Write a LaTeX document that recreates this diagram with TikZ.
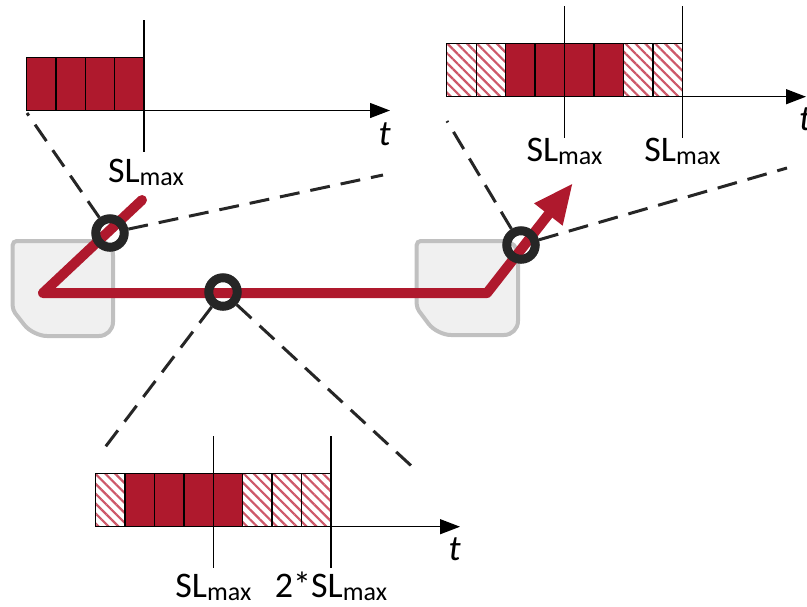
\documentclass[tikz,border=0pt]{standalone}
\usepackage{fontspec}
\setmainfont{Carlito}
\usepackage{xcolor}
\usepackage{tikz}
\usetikzlibrary{positioning, arrows.meta, patterns.meta}

\definecolor{slred}{RGB}{175,25,45}
\definecolor{slhatch}{RGB}{205,88,105}
\definecolor{ringgray}{RGB}{38,38,38}
\definecolor{boxfill}{RGB}{240,240,240}
\definecolor{boxline}{RGB}{192,192,192}

\newcommand{\slmax}{SL\raisebox{-3pt}{\fontsize{26}{26}\selectfont max}}

\tikzset{
  fullcell/.style={draw=black, line width=1.3pt, fill=slred},
  hatchcell/.style={draw=black, line width=1.3pt, pattern={Lines[angle=-45,distance=7pt,line width=2.2pt]}, pattern color=slhatch},
  taxis/.style={-{Triangle[length=20pt,width=15pt]}, line width=1.3pt},
  tickline/.style={line width=1.3pt},
  station/.style={fill=boxfill, draw=boxline, line width=4pt, rounded corners=14pt},
  route/.style={draw=slred, line width=10pt, line cap=round, line join=round, -{Triangle[length=40pt,width=33pt]}},
  probe/.style={circle, draw=ringgray, line width=9pt, minimum size=28.5pt, inner sep=0pt},
  zoomline/.style={draw=ringgray, line width=3pt, dash pattern=on 20pt off 11pt},
  lbl/.style={font=\fontsize{36}{40}\selectfont, inner sep=0pt, anchor=base}
}

\begin{document}
\begin{tikzpicture}[x=1pt,y=-1pt]
        \useasboundingbox (0,0) rectangle (807,606);

        % Stations
        \draw[station] (62,241) -- (113,241) -- (113,336) -- (33,336) [rounded corners=4pt] -- (12.7,310) -- (12.7,241) [rounded corners=14pt] -- cycle;
        \draw[station] (467,241) -- (518,241) -- (518,335) -- (437,335) [rounded corners=4pt] -- (416.7,308) -- (416.7,241) [rounded corners=14pt] -- cycle;

        % Route
        \coordinate (r0) at (142,200);
        \coordinate (r1) at (43,293);
        \coordinate (r2) at (487,293);
        \coordinate (r3) at (573,183);
        \draw[route] (r0) -- (r1) -- (r2) -- (r3);

        % Probes
        \node (p1) [probe] at (110,233) {};
        \node (p2) [probe] at (223,292) {};
        \node (p3) [probe] at (521,245) {};

        % Zoom lines
        \coordinate (za) at (27,113);
        \coordinate (zb) at (383,175);
        \coordinate (zc) at (103,450);
        \coordinate (zd) at (418,472);
        \coordinate (ze) at (447,121);
        \coordinate (zf) at (787,168);
        \draw[zoomline] (p1) -- (za);
        \draw[zoomline] (p1) -- (zb);
        \draw[zoomline] (p2) -- (zc);
        \draw[zoomline] (p2) -- (zd);
        \draw[zoomline] (p3) -- (ze);
        \draw[zoomline] (p3) -- (zf);

        % Chart at first probe
        \foreach \i in {0,...,3}
          \draw[fullcell] (26.7+29.3*\i,57.7) rectangle ++(29.3,52.8);
        \draw[taxis] (26.7,110.5) -- (390,110.5);
        \draw[tickline] (144,20) -- (144,152);
        \node (ta) [lbl, anchor=base east] at (391,145) {\textit{t}};
        \node (la) [lbl] at (146,182) {\slmax};

        % Chart at third probe
        \foreach \i/\sty in {0/hatchcell,1/hatchcell,2/fullcell,3/fullcell,4/fullcell,5/fullcell,6/hatchcell,7/hatchcell}
          \draw[\sty] (446.7+29.45*\i,43.3) rectangle ++(29.45,53.4);
        \draw[taxis] (446.7,96.7) -- (806,96.7);
        \draw[tickline] (564.5,6) -- (564.5,138);
        \draw[tickline] (682.3,6) -- (682.3,138);
        \node (tb) [lbl, anchor=base west] at (799,130) {\textit{t}};
        \node (lb1) [lbl] at (564.5,161.5) {\slmax};
        \node (lb2) [lbl] at (682.3,161.5) {\slmax};

        % Chart at second probe
        \foreach \i/\sty in {0/hatchcell,1/fullcell,2/fullcell,3/fullcell,4/fullcell,5/hatchcell,6/hatchcell,7/hatchcell}
          \draw[\sty] (95.7+29.4*\i,473.3) rectangle ++(29.4,53.4);
        \draw[taxis] (95.7,526.7) -- (460,526.7);
        \draw[tickline] (213.3,436) -- (213.3,568);
        \draw[tickline] (330.9,436) -- (330.9,568);
        \node (tc) [lbl, anchor=base east] at (461,560) {\textit{t}};
        \node (lc1) [lbl] at (213.3,597) {\slmax};
        \node (lc2) [lbl] at (331,597) {2*\slmax};

    \end{tikzpicture}
\end{document}
